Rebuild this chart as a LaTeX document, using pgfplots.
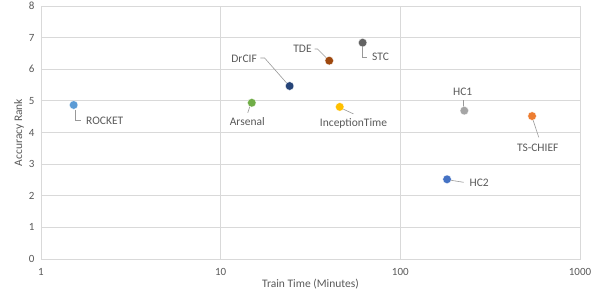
\documentclass[border=0pt]{standalone}
\usepackage{fontspec}
\setmainfont{Carlito}
\usepackage{pgfplots}
\pgfplotsset{compat=1.18}
\definecolor{txt}{HTML}{595959}
\definecolor{gridc}{HTML}{D9D9D9}
\definecolor{cRocket}{HTML}{5B9BD5}
\definecolor{cArsenal}{HTML}{70AD47}
\definecolor{cDrCIF}{HTML}{264478}
\definecolor{cTDE}{HTML}{9E480E}
\definecolor{cSTC}{HTML}{636363}
\definecolor{cIncep}{HTML}{FFC000}
\definecolor{cHCone}{HTML}{A5A5A5}
\definecolor{cChief}{HTML}{ED7D31}
\definecolor{cHCtwo}{HTML}{4472C4}
\begin{document}
\begin{tikzpicture}[font=\fontsize{11.5}{13}\selectfont, lead/.style={draw=gray!80, line width=0.6pt}]
\path[use as bounding box] (-41pt,-45pt) rectangle (557pt,259pt);
\begin{axis}[
  at={(0,0)}, anchor=origin,
  scale only axis, width=539pt, height=253pt,
  xmode=log, xmin=1, xmax=1000, ymin=0, ymax=8,
  xtick={1,10,100,1000}, xticklabels={1,10,100,1000},
  ytick={0,1,...,8},
  /pgf/number format/assume math mode=true,
  major tick length=0pt,
  minor tick num=0,
  xminorticks=false,
  grid=major,
  major grid style={draw=gridc, line width=0.8pt},
  axis line style={draw=gridc, line width=0.8pt},
  tick label style={text=txt, font=\fontsize{11}{13}\selectfont},
  xticklabel style={yshift=-6pt},
  yticklabel style={xshift=-3pt},
  xlabel={Train Time (Minutes)}, ylabel={Accuracy Rank},
  label style={text=txt},
  xlabel style={yshift=4pt},
  ylabel style={yshift=-2pt},
  clip=false,
]
\addplot[only marks, mark=*, mark size=4.3pt, mark options={draw=white, line width=0.3pt, fill=cRocket}] coordinates {(1.52,4.87)};
\addplot[only marks, mark=*, mark size=4.3pt, mark options={draw=white, line width=0.3pt, fill=cArsenal}] coordinates {(14.9,4.94)};
\addplot[only marks, mark=*, mark size=4.3pt, mark options={draw=white, line width=0.3pt, fill=cDrCIF}] coordinates {(24.2,5.47)};
\addplot[only marks, mark=*, mark size=4.3pt, mark options={draw=white, line width=0.3pt, fill=cTDE}] coordinates {(40.2,6.27)};
\addplot[only marks, mark=*, mark size=4.3pt, mark options={draw=white, line width=0.3pt, fill=cSTC}] coordinates {(61.7,6.84)};
\addplot[only marks, mark=*, mark size=4.3pt, mark options={draw=white, line width=0.3pt, fill=cIncep}] coordinates {(46,4.81)};
\addplot[only marks, mark=*, mark size=4.3pt, mark options={draw=white, line width=0.3pt, fill=cHCone}] coordinates {(227,4.69)};
\addplot[only marks, mark=*, mark size=4.3pt, mark options={draw=white, line width=0.3pt, fill=cChief}] coordinates {(541,4.52)};
\addplot[only marks, mark=*, mark size=4.3pt, mark options={draw=white, line width=0.3pt, fill=cHCtwo}] coordinates {(182,2.52)};
% labels and leader lines
\path[lead] ([shift={(2pt,-5pt)}]axis cs:1.52,4.87) -- ([shift={(2pt,-15.5pt)}]axis cs:1.52,4.87) -- ([shift={(7pt,-15.5pt)}]axis cs:1.52,4.87);
\node[anchor=west, text=txt] at ([shift={(9pt,-15.5pt)}]axis cs:1.52,4.87) {ROCKET};
\path[lead] ([shift={(-2pt,-4pt)}]axis cs:14.9,4.94) -- ([shift={(-4pt,-10pt)}]axis cs:14.9,4.94);
\node[text=txt] at ([shift={(-4.5pt,-18.7pt)}]axis cs:14.9,4.94) {Arsenal};
\path[lead] ([shift={(-29.3pt,28pt)}]axis cs:24.2,5.47) -- ([shift={(-25pt,28pt)}]axis cs:24.2,5.47) -- ([shift={(-3pt,3pt)}]axis cs:24.2,5.47);
\node[text=txt] at ([shift={(-45.5pt,27.7pt)}]axis cs:24.2,5.47) {DrCIF};
\path[lead] ([shift={(-14.7pt,11.7pt)}]axis cs:40.2,6.27) -- ([shift={(-11.7pt,11.7pt)}]axis cs:40.2,6.27) -- ([shift={(-2.7pt,2.7pt)}]axis cs:40.2,6.27);
\node[text=txt] at ([shift={(-26.7pt,11.7pt)}]axis cs:40.2,6.27) {TDE};
\path[lead] ([shift={(0pt,-4pt)}]axis cs:61.7,6.84) -- ([shift={(0pt,-14.6pt)}]axis cs:61.7,6.84) -- ([shift={(4pt,-14.6pt)}]axis cs:61.7,6.84);
\node[anchor=west, text=txt] at ([shift={(6pt,-14.6pt)}]axis cs:61.7,6.84) {STC};
\path[lead] ([shift={(3pt,-2pt)}]axis cs:46,4.81) -- ([shift={(13.7pt,-7pt)}]axis cs:46,4.81);
\node[text=txt] at ([shift={(13.8pt,-16.3pt)}]axis cs:46,4.81) {InceptionTime};
\path[lead] ([shift={(-1pt,4pt)}]axis cs:227,4.69) -- ([shift={(-1pt,10.7pt)}]axis cs:227,4.69);
\node[text=txt] at ([shift={(-1.6pt,19pt)}]axis cs:227,4.69) {HC1};
\path[lead] ([shift={(1pt,-4pt)}]axis cs:541,4.52) -- ([shift={(6.7pt,-21.3pt)}]axis cs:541,4.52);
\node[text=txt] at ([shift={(5.7pt,-31.7pt)}]axis cs:541,4.52) {TS-CHIEF};
\path[lead] ([shift={(4pt,-1pt)}]axis cs:182,2.52) -- ([shift={(16.6pt,-3pt)}]axis cs:182,2.52);
\node[anchor=west, text=txt] at ([shift={(19pt,-4pt)}]axis cs:182,2.52) {HC2};
\end{axis}
\end{tikzpicture}
\end{document}
